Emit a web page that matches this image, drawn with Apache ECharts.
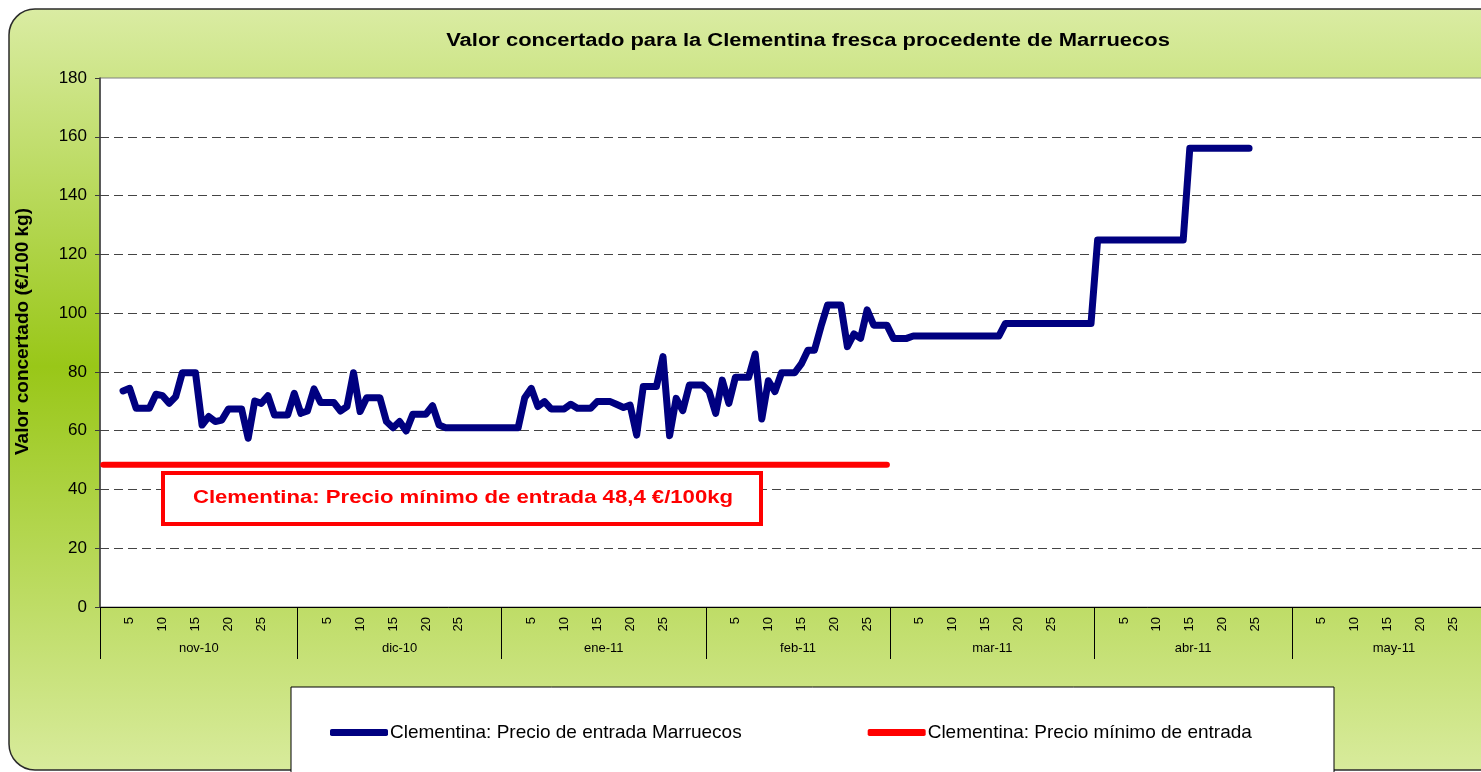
<!DOCTYPE html>
<html>
<head>
<meta charset="utf-8">
<script src="https://cdn.jsdelivr.net/npm/echarts@6/dist/echarts.min.js"></script>
<style>
html,body{margin:0;padding:0;background:#fff;overflow:hidden;width:1481px;height:772px;}
#chart{width:1600px;height:772px;}
</style>
</head>
<body>
<div id="chart"></div>
<script>
// ---- data ----
const months = ['nov-10','dic-10','ene-11','feb-11','mar-11','abr-11','may-11'];
const monthDays = [30,31,31,28,31,30,31];
const dayTickLabels = [5,10,15,20,25];

const novValues = [null,null,null,73.5,74.4,67.6,67.6,67.6,72.4,71.9,69.3,71.6,79.7,79.7,79.7,61.9,64.8,63.1,63.6,67.4,67.4,67.4,57.4,70.1,69.3,71.9,65.3,65.3,65.3,72.7];
const dicValues = [65.9,66.7,74.2,69.6,69.6,69.6,66.7,68.2,79.7,66.5,71.2,71.2,71.2,63.1,61.0,63.1,59.9,65.6,65.6,65.6,68.5,61.9,61.0,61.0,61.0,61.0,61.0,61.0,61.0,61.0,61.0];
const eneValues = [61.0,61.0,61.0,71.2,74.4,68.2,69.9,67.4,67.4,67.4,69.0,67.6,67.6,67.6,69.9,69.9,69.9,68.9,67.9,68.7,58.5,75.0,75.0,75.0,85.2,58.3,71.0,66.8,75.5,75.5,75.5];
const febValues = [73.3,65.9,77.2,69.3,78.2,78.2,78.2,86.1,64.0,77.0,73.3,79.7,79.7,79.7,82.7,87.4,87.4,95.5,102.8,102.8,102.8,88.6,92.9,91.4,101.1,95.9,95.9,95.9];
const marValues = [91.4,91.4,91.4,92.2,92.2,92.2,92.2,92.2,92.2,92.2,92.2,92.2,92.2,92.2,92.2,92.2,92.2,96.5,96.5,96.5,96.5,96.5,96.5,96.5,96.5,96.5,96.5,96.5,96.5,96.5,96.5];
const abrValues = [124.9,124.9,124.9,124.9,124.9,124.9,124.9,124.9,124.9,124.9,124.9,124.9,124.9,124.9,156.1,156.1,156.1,156.1,156.1,156.1,156.1,156.1,156.1,156.1,null,null,null,null,null,null];
const mayValues = [null,null,null,null,null,null,null,null,null,null,null,null,null,null,null,null,null,null,null,null,null,null,null,null,null,null,null,null,null,null,null];

const minPrice = 48.4;        // precio mínimo de entrada
const minPriceLastDay = 120;  // número de días con línea roja (hasta 28 feb)

const seriesNames = ['Clementina: Precio de entrada Marruecos','Clementina: Precio mínimo de entrada'];
const titleText = 'Valor concertado para la Clementina fresca procedente de Marruecos';
const yAxisTitle = 'Valor concertado (€/100 kg)';
const annotationText = 'Clementina: Precio mínimo de entrada 48,4 €/100kg';

// ---- build categories ----
const categories = [];
const dayOfCat = [];
const monthOfCat = [];
months.forEach((m, mi) => {
  for (let d = 1; d <= monthDays[mi]; d++) {
    categories.push(m + '|' + d);
    dayOfCat.push(d);
    monthOfCat.push(mi);
  }
});
const blueData = [].concat(novValues, dicValues, eneValues, febValues, marValues, abrValues, mayValues);
const redData = categories.map((c, i) => (i < minPriceLastDay ? minPrice : null));

const monthLabelDay = monthDays.map(n => Math.floor(n / 2) + (n % 2 === 1 ? 1 : 0));
const FONT = '"Liberation Sans", Arial, sans-serif';

const chart = echarts.init(document.getElementById('chart'));
const option = {
  animation: false,
  backgroundColor: '#ffffff',
  textStyle: { fontFamily: FONT },
  graphic: [
    {
      type: 'rect', z: -10, silent: true,
      shape: { x: 9, y: 9, width: 1620, height: 761, r: 26 },
      style: {
        stroke: '#2b2b2b', lineWidth: 1.5,
        fill: new echarts.graphic.LinearGradient(0, 0, 0, 1, [
          { offset: 0, color: '#daeca3' },
          { offset: 0.47, color: '#99c718' },
          { offset: 1, color: '#d8eb9c' }
        ])
      }
    },
    {
      type: 'text', silent: true, z: 5,
      x: 808, y: 41, scaleX: 1.22, scaleY: 1,
      style: { x: 0, y: 0, text: titleText, textAlign: 'center', textVerticalAlign: 'middle',
        font: 'bold 18px ' + FONT, fill: '#000' }
    },
    {
      type: 'rect', silent: true, z: 1,
      shape: { x: 291, y: 687, width: 1043, height: 120 },
      style: { fill: '#fff', stroke: '#000', lineWidth: 1 }
    },
    {
      type: 'rect', silent: true, z: 5,
      shape: { x: 163, y: 473, width: 598, height: 51 },
      style: { fill: '#fff', stroke: '#ff0000', lineWidth: 4 }
    },
    {
      type: 'text', silent: true, z: 6,
      x: 463, y: 498, scaleX: 1.23, scaleY: 1,
      style: { x: 0, y: 0, text: annotationText, textAlign: 'center', textVerticalAlign: 'middle',
        font: 'bold 18px ' + FONT, fill: '#ff0000' }
    }
  ],
  legend: {
    left: 325, top: 718,
    itemWidth: 58, itemHeight: 7, itemGap: 126,
    icon: 'roundRect',
    textStyle: { fontSize: 19, color: '#000', fontFamily: FONT, padding: [0,0,0,-3] },
    data: seriesNames
  },
  grid: {
    left: 100, top: 78, width: 1396, height: 529,
    show: true, backgroundColor: '#ffffff', borderColor: '#808080', borderWidth: 1,
    containLabel: false
  },
  xAxis: [
    {
      type: 'category', data: categories, boundaryGap: true,
      axisLine: { show: true, lineStyle: { color: '#000', width: 1 } },
      axisTick: { show: false },
      axisLabel: {
        rotate: 90, fontSize: 13, color: '#000', margin: 10, fontFamily: FONT,
        interval: (i) => dayTickLabels.indexOf(dayOfCat[i]) >= 0,
        formatter: (v, i) => String(dayOfCat[i])
      },
      splitLine: { show: false }
    },
    {
      type: 'category', data: categories, boundaryGap: true, position: 'bottom',
      axisLine: { show: false },
      axisTick: {
        show: true, length: 52, lineStyle: { color: '#000', width: 1 },
        interval: (i) => dayOfCat[i] === 1
      },
      axisLabel: {
        fontSize: 13, color: '#000', margin: 35, fontFamily: FONT,
        interval: (i) => dayOfCat[i] === monthLabelDay[monthOfCat[i]],
        formatter: (v, i) => {
          const mi = monthOfCat[i];
          return monthDays[mi] % 2 === 0 ? '{s|' + months[mi] + '}' : months[mi];
        },
        rich: { s: { fontSize: 13, color: '#000', fontFamily: FONT, padding: [0, 0, 0, 6.6] } }
      },
      splitLine: { show: false }
    }
  ],
  yAxis: {
    type: 'value', min: 0, max: 180, interval: 20,
    name: yAxisTitle, nameLocation: 'middle', nameGap: 68, nameRotate: 90,
    nameTextStyle: { fontSize: 19, fontWeight: 'bold', color: '#000', fontFamily: FONT, padding: [0, 0, 0, 22] },
    axisLine: { show: true, lineStyle: { color: '#3a3a3a', width: 1.5 } },
    axisTick: { show: true, length: 5, lineStyle: { color: '#3a3a3a' } },
    axisLabel: { fontSize: 17, color: '#000', margin: 13, fontFamily: FONT },
    splitLine: { show: true, showMaxLine: false, showMinLine: false, lineStyle: { color: '#444', width: 1, type: [9, 5] } }
  },
  series: [
    {
      name: seriesNames[0], type: 'line', data: blueData, xAxisIndex: 0,
      showSymbol: false, symbol: 'none', connectNulls: false,
      lineStyle: { color: '#000080', width: 7, cap: 'round', join: 'round' },
      itemStyle: { color: '#000080' }, z: 3
    },
    {
      name: seriesNames[1], type: 'line', data: redData, xAxisIndex: 0,
      showSymbol: false, symbol: 'none',
      lineStyle: { color: '#ff0000', width: 6, cap: 'round', join: 'round' },
      itemStyle: { color: '#ff0000' }, z: 3
    }
  ]
};
chart.setOption(option);
</script>
</body>
</html>
